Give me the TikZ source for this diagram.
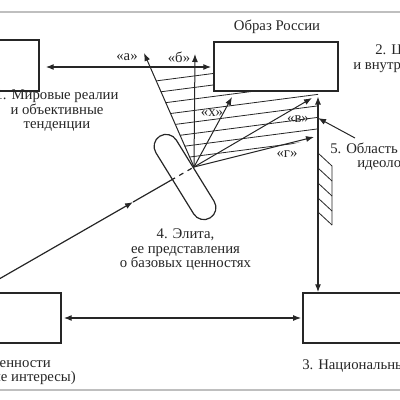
\documentclass[tikz,border=0pt]{standalone}
\usepackage{fontspec}
\setmainfont{Liberation Serif}
\usetikzlibrary{arrows.meta,shapes.misc,fit,calc}

\definecolor{ink}{HTML}{262626}
\tikzset{
  box/.style={draw=ink, line width=0.35mm, inner sep=0pt},
  txt/.style={text=ink, font=\fontsize{10.5}{10.3}\selectfont, inner sep=0pt, text height=1.5ex, text depth=.3ex},
  lbl/.style={text=ink, font=\fontsize{10.5}{10}\selectfont, inner sep=0pt},
  link/.style={draw=ink, line width=0.3mm},
  fan/.style={draw=ink, line width=0.25mm},
  hatch/.style={draw=ink, line width=0.2mm},
}

\begin{document}
\begin{tikzpicture}[x=0.25mm, y=-0.25mm, >={Latex[length=2mm,width=1.5mm]}]
    \useasboundingbox (0,0) rectangle (400,400);
    \clip (0,0) rectangle (400,400);
    \draw[black!25, line width=0.4mm] (0,12) -- (400,12) (0,390) -- (400,390);

    % boxes
    \node[box, fit={(-60,40) (39,91)}] (world) {};
    \node[box, fit={(214,42) (338,91)}] (image) {};
    \node[box, fit={(303,293) (460,343)}] (nation) {};
    \node[box, fit={(-60,293) (61,343)}] (values) {};
    \node[draw=ink, line width=0.3mm, rounded rectangle, minimum width=24mm, minimum height=6mm, inner sep=0pt, rotate=-58.3] (elite) at (185,177) {};

    % texts
    \node[txt] (image-txt) at (277,27) {Образ России};
    \node[txt, align=center] (world-txt) at (57,125) {1. Мировые реалии\\и объективные\\тенденции};
    \node[txt, anchor=west] (goals-a) at (375,51) {2. Цели внешней};
    \node[txt, anchor=west] (goals-b) at (353,66) {и внутренней политики};
    \node[txt, anchor=west] (nation-txt) at (302,366) {3. Национальный характер};
    \node[txt, align=center] (elite-txt) at (185.5,264) {4. Элита,\\ее представления\\о базовых ценностях};
    \node[txt, anchor=west] (ideo) at (330,150) {5. Область};
    \node[txt, anchor=west] (ideo-b) at (357,164) {идеологии};
    \node[txt, anchor=east] (values-a) at (51,364) {6. Базовые ценности};
    \node[txt, anchor=east] (values-b) at (76,378) {(национальные интересы)};

    % fan of the elite
    \coordinate (F) at (194,167);
    \coordinate (ta) at (144,53);
    \coordinate (tb) at (195,54);
    \coordinate (tx) at (232,97);
    \coordinate (tv) at (312,98);
    \coordinate (tg) at (314,137);
    \coordinate (axis) at (318,0);

    \begin{scope}
        \clip (F) -- (153,74) -- (214,66) -- (214,91) -- (318,91) -- (318,138) -- cycle;
        \foreach \k in {0,...,8}
            \draw[hatch] (140,{83+11.5*\k}) -- ++(200,-26);
    \end{scope}

    \foreach \t in {ta,tb,tx,tv,tg}
        \draw[fan,->] (F) -- (\t);

    \node[lbl] (la) at (127,57) {«а»};
    \node[lbl] (lb) at (179,57) {«б»};
    \node[lbl] (lx) at (212,113) {«х»};
    \node[lbl] (lv) at (298,119) {«в»};
    \node[lbl] (lg) at (287,154) {«г»};

    % line from the values
    \coordinate (src) at (-20,290);
    \draw[link,->] (src) -- ($(src)!0.715!(F)$) coordinate (mid);
    \draw[link] (mid) -- ($(src)!0.892!(F)$) coordinate (edge);
    \draw[link, dash pattern=on 1.2mm off 1.2mm] (edge) -- (F);

    % links between the boxes
    \coordinate (topline) at (0,67);
    \draw[link,<->, shorten <=1.5mm, shorten >=0.5mm] (world.east |- topline) -- (image.west |- topline);
    \draw[link,<->, shorten <=0.5mm, shorten >=0.3mm] (values.east) -- (nation.west);
    \draw[link,<->, shorten <=1.2mm] (axis |- image.south) -- (axis |- nation.north);

    % ideology strip
    \draw[hatch] (318,153) -- (332,166) -- (332,225);
    \foreach \y in {168,183,198,212}
        \draw[hatch] (318,\y) -- ++(14,13);
    \coordinate (ideo-arrow) at (355,138);
    \draw[fan,->] (ideo-arrow) -- (axis |- 0,118);
\end{tikzpicture}
\end{document}
